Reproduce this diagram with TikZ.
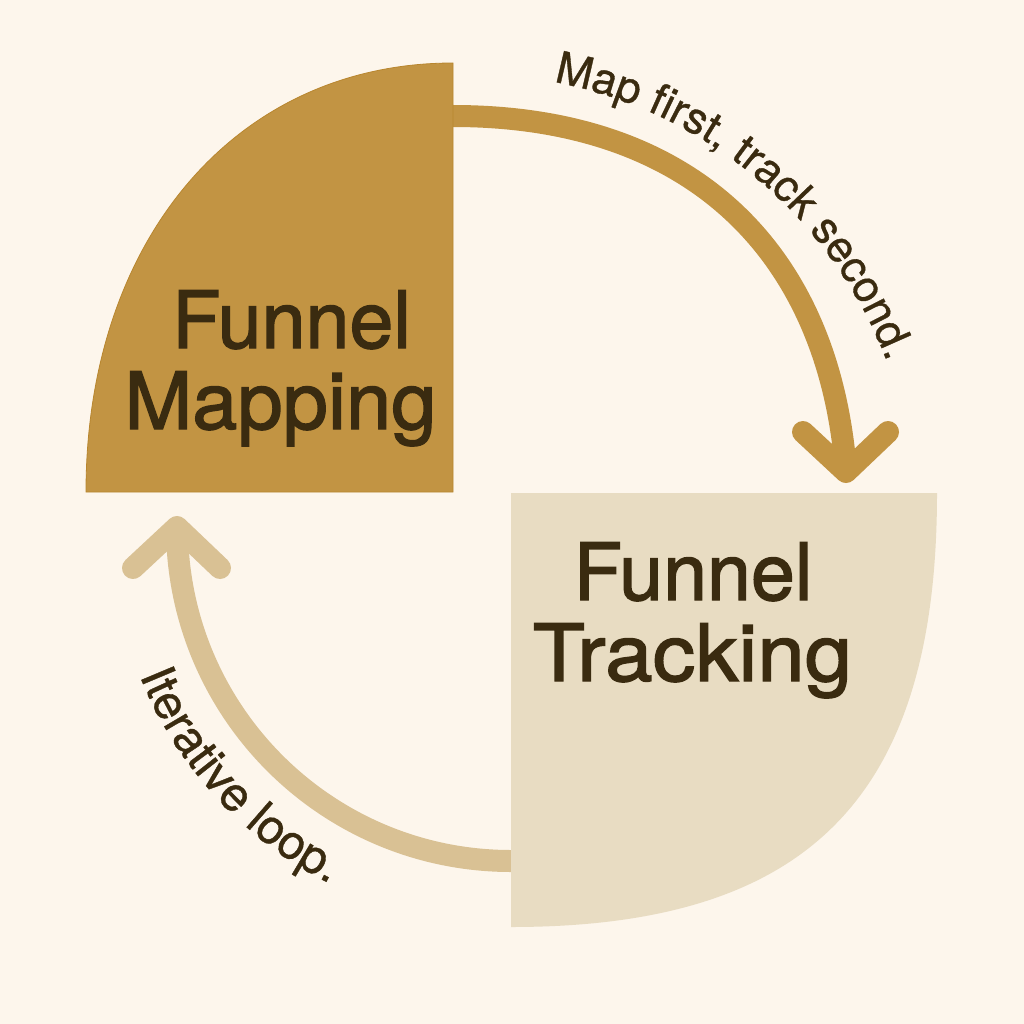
\documentclass[tikz,border=0pt]{standalone}
\usepackage{fontspec}
\setmainfont{TeX Gyre Heros}
\newfontfamily\titlefont[FakeBold=1.7]{TeX Gyre Heros}
\newfontfamily\lblfont[FakeBold=0.8]{TeX Gyre Heros}
\usetikzlibrary{decorations.text}
\definecolor{bg}{HTML}{FDF6EC}
\definecolor{mapcol}{HTML}{C29443}
\definecolor{mapedge}{HTML}{B8862F}
\definecolor{trackcol}{HTML}{E8DCC2}
\definecolor{loopcol}{HTML}{D9C194}
\definecolor{ink}{HTML}{3A2B10}
\begin{document}
\begin{tikzpicture}[x=1pt,y=1pt,
  shaft/.style={line width=22pt, line cap=butt},
  chevron/.style={line width=22pt, line cap=round, line join=round},
  title/.style={font=\titlefont\fontsize{79}{90}\selectfont, text=ink, inner sep=0pt, anchor=base}]
\fill[bg] (0,0) rectangle (1024,-1024);
\useasboundingbox (0,0) rectangle (1024,-1024);

% key points
\coordinate (mapC) at (453,-492);
\coordinate (mapTop) at (453,-63);
\coordinate (mapLeft) at (86,-492);
\coordinate (trkC) at (511,-493);
\coordinate (trkRight) at (937,-493);
\coordinate (trkBot) at (511,-927);
\coordinate (topS) at (453,-116);
\coordinate (topV) at (846,-472);
\coordinate (topL) at (803,-432);
\coordinate (topR) at (888,-432);
\coordinate (botS) at (511,-861);
\coordinate (botV) at (177,-527);
\coordinate (botL) at (133,-568);
\coordinate (botR) at (220,-568);
\coordinate (lblC) at (470,-520);
\coordinate (loopC) at (511,-527);

% arrows
\draw[shaft, mapcol] (topS) .. controls (700,-116) and (830,-260) .. (topV);
\draw[chevron, mapcol] (topL) -- (topV) -- (topR);
\draw[shaft, loopcol] (botS) arc[start angle=270, end angle=180, radius=334pt];
\draw[chevron, loopcol] (botL) -- (botV) -- (botR);

% quarter shapes
\filldraw[fill=mapcol, draw=mapedge, line width=0.8pt] (mapC) -- (mapTop) .. controls (236,-63) and (86,-240) .. (mapLeft) -- cycle;
\fill[trackcol] (trkC) -- (trkRight) .. controls (937,-797) and (809,-927) .. (trkBot) -- cycle;

% titles
\node[title] (fm1) at (291.5,-348) {Funnel};
\node[title] (fm2) at (280.5,-429) {\scalebox{1.03}[1]{Mapping}};
\node[title] (ft1) at (693,-600) {Funnel};
\node[title] (ft2) at (692.5,-681) {\scalebox{1.08}[1]{Tracking}};

% curved labels
\path[decorate, decoration={text along path, text align=left,
  text={|\lblfont\fontsize{44}{50}\selectfont\color{ink}|Map first, track second.}}]
  ([shift={(79.2:446pt)}]lblC) arc[start angle=79.2, end angle=5, radius=446pt];
\path[decorate, decoration={text along path, text align=left,
  text={|\lblfont\fontsize{48}{54}\selectfont\color{ink}|Iterative loop.}}]
  ([shift={(201.8:400pt)}]loopC) arc[start angle=201.8, end angle=275, radius=400pt];
\end{tikzpicture}
\end{document}
